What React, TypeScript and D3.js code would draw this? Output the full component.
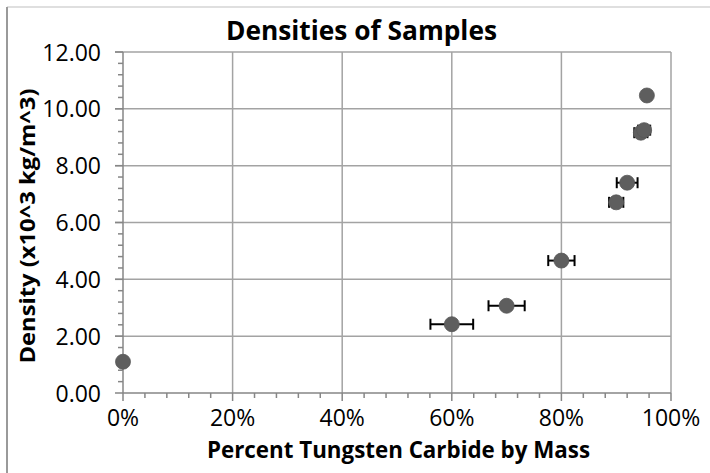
import React from "react";
import * as d3 from "d3";

// Sample measurements: mass fraction of tungsten carbide, measured density (x10^3 kg/m^3)
// and the horizontal uncertainty on the mass fraction.
const massFraction = [0, 0.6, 0.7, 0.8, 0.9, 0.92, 0.945, 0.951, 0.956];
const density = [1.1, 2.42, 3.07, 4.66, 6.71, 7.4, 9.16, 9.25, 10.47];
const massError = [0, 0.039, 0.033, 0.024, 0.013, 0.019, 0.012, 0.011, 0.005];

const xTicks = [0, 0.2, 0.4, 0.6, 0.8, 1.0];
const yTicks = [0, 2, 4, 6, 8, 10, 12];

const chartTitle = "Densities of Samples";
const xTitle = "Percent Tungsten Carbide by Mass";
const yTitle = "Density (x10^3 kg/m^3)";

const W = 710;
const H = 473;
const plot = { left: 123, right: 671, top: 52, bottom: 393 };
const FONT = "'Open Sans', 'DejaVu Sans', sans-serif";

export default function App() {
  const x = d3.scaleLinear().domain([0, 1]).range([plot.left, plot.right]);
  const y = d3.scaleLinear().domain([0, 12]).range([plot.bottom, plot.top]);

  const xMinor = d3.range(0, 1.0001, 0.04);
  const yMinor = d3.range(0, 12.0001, 0.4);
  const pctFmt = d3.format(".0%");
  const numFmt = d3.format(".2f");

  const gridColor = "#a3a3a3";
  const axisColor = "#868686";

  const points = massFraction.map((m, i) => ({ m, d: density[i], e: massError[i] }));

  return (
    <svg
      width={W}
      height={H}
      style={{ position: "absolute", left: 0, top: 0, background: "#fff" }}
      fontFamily={FONT}
    >
      {/* chart frame */}
      <line x1={7} y1={7} x2={W} y2={7} stroke="#d4d4d4" strokeWidth={1.5} />
      <line x1={7} y1={7} x2={7} y2={H} stroke="#9a9a9a" strokeWidth={2} />

      {/* gridlines */}
      {xTicks.slice(1).map((t) => (
        <line key={"gx" + t} x1={x(t)} x2={x(t)} y1={plot.top} y2={plot.bottom} stroke={gridColor} strokeWidth={1.5} />
      ))}
      {yTicks.slice(1).map((t) => (
        <line key={"gy" + t} x1={plot.left - 8} x2={plot.right} y1={y(t)} y2={y(t)} stroke={gridColor} strokeWidth={1.5} />
      ))}

      {/* axes */}
      <line x1={plot.left} x2={plot.right} y1={plot.bottom} y2={plot.bottom} stroke={axisColor} strokeWidth={1.5} />
      <line x1={plot.left} x2={plot.left} y1={plot.top} y2={plot.bottom} stroke={axisColor} strokeWidth={1.5} />

      {/* x ticks */}
      {xMinor.map((t, i) => (
        <line
          key={"mx" + i}
          x1={x(t)}
          x2={x(t)}
          y1={plot.bottom}
          y2={plot.bottom + (i % 5 === 0 ? 8 : 5)}
          stroke={axisColor}
          strokeWidth={1.5}
        />
      ))}
      {/* y ticks */}
      {yMinor.map((t, i) => (
        <line
          key={"my" + i}
          x1={plot.left - (i % 5 === 0 ? 8 : 5)}
          x2={plot.left}
          y1={y(t)}
          y2={y(t)}
          stroke={axisColor}
          strokeWidth={1.5}
        />
      ))}

      {/* tick labels */}
      {xTicks.map((t) => (
        <text key={"lx" + t} x={x(t)} y={426} textAnchor="middle" fontSize={23} fill="#000">
          {pctFmt(t)}
        </text>
      ))}
      {yTicks.map((t) => (
        <text key={"ly" + t} x={101} y={y(t) + 8.5} textAnchor="end" fontSize={23} fill="#000">
          {numFmt(t)}
        </text>
      ))}

      {/* error bars */}
      {points
        .filter((p) => p.e > 0)
        .map((p, i) => (
          <g key={"e" + i} stroke="#000" strokeWidth={2}>
            <line x1={x(p.m - p.e)} x2={x(p.m + p.e)} y1={y(p.d)} y2={y(p.d)} />
            <line x1={x(p.m - p.e)} x2={x(p.m - p.e)} y1={y(p.d) - 5.5} y2={y(p.d) + 5.5} />
            <line x1={x(p.m + p.e)} x2={x(p.m + p.e)} y1={y(p.d) - 5.5} y2={y(p.d) + 5.5} />
          </g>
        ))}

      {/* markers */}
      {points.map((p, i) => (
        <circle key={"p" + i} cx={x(p.m)} cy={y(p.d)} r={7.5} fill="#5e5e5e" stroke="#585858" strokeWidth={0.8} />
      ))}

      {/* titles */}
      <text x={361.5} y={40} textAnchor="middle" fontSize={26} fontWeight="bold" textLength={271} lengthAdjust="spacingAndGlyphs">
        {chartTitle}
      </text>
      <text x={398.5} y={458} textAnchor="middle" fontSize={23} fontWeight="bold" textLength={383} lengthAdjust="spacingAndGlyphs">
        {xTitle}
      </text>
      <text
        transform={`translate(35,226) rotate(-90)`}
        textAnchor="middle"
        fontSize={21}
        fontWeight="bold"
        textLength={275}
        lengthAdjust="spacingAndGlyphs"
      >
        {yTitle}
      </text>
    </svg>
  );
}
